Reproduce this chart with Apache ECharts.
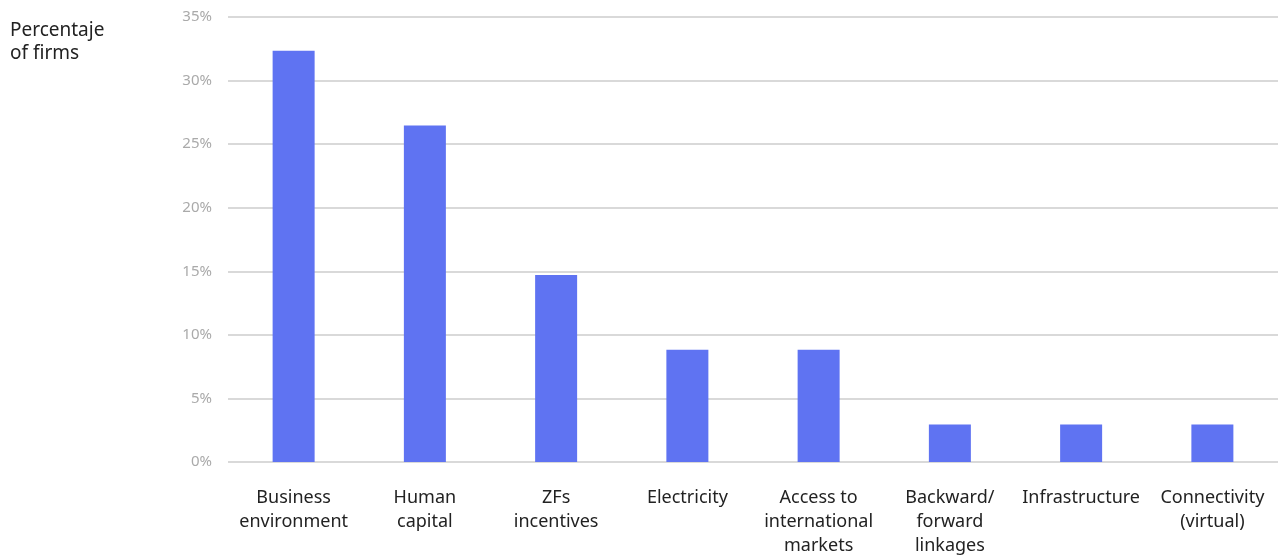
<!DOCTYPE html>
<html><head><meta charset="utf-8">
<script src="https://cdn.jsdelivr.net/npm/echarts@6/dist/echarts.min.js"></script>
<style>html,body{margin:0;padding:0;background:#fff}#c{width:1283px;height:556px}</style>
</head><body><div id="c"></div>
<script>
const categories = ["Business\nenvironment","Human\ncapital","ZFs\nincentives","Electricity","Access to\ninternational\nmarkets","Backward/\nforward\nlinkages","Infrastructure","Connectivity\n(virtual)"];
const values = [32.35, 26.47, 14.71, 8.82, 8.82, 2.94, 2.94, 2.94];
const yTicks = [0,5,10,15,20,25,30,35];
const yTitle = "Percentaje\nof firms";
const font = "'Noto Sans', sans-serif";
const chart = echarts.init(document.getElementById('c'));
chart.setOption({
  animation:false,
  graphic:[{type:'text',left:10,top:19,style:{text:yTitle,font:"19px "+font,fill:'#222',lineHeight:23}}],
  grid:{left:228,right:5,top:17,bottom:94,outerBoundsMode:'none',containLabel:false},
  xAxis:{type:'category',data:categories,axisLine:{show:false},axisTick:{show:false},
    axisLabel:{interval:0,color:'#222',fontSize:18,fontFamily:font,lineHeight:24,margin:24}},
  yAxis:{type:'value',min:0,max:35,interval:5,
    axisLabel:{formatter:v=>yTicks.includes(v)?v+'%':'',color:'#aaa',fontSize:15,fontFamily:font,margin:16},
    splitLine:{lineStyle:{color:'#d9d9d9',width:2}},axisLine:{show:false},axisTick:{show:false}},
  series:[{type:'bar',data:values,barWidth:42,itemStyle:{color:'#5f73f2'}}]
});
</script></body></html>
